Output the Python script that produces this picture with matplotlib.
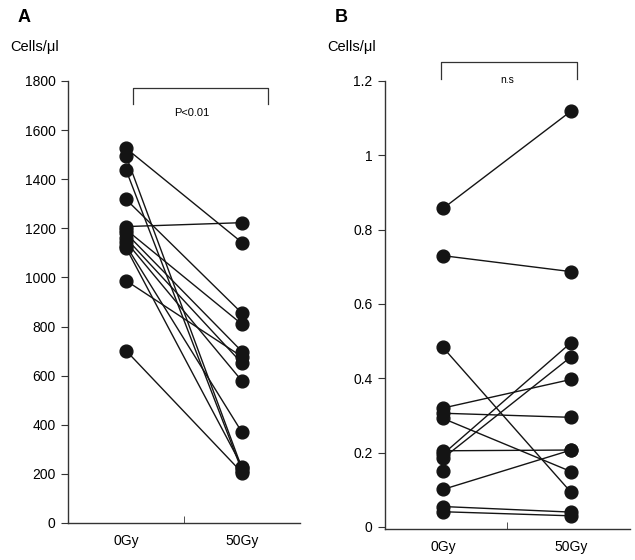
import numpy as np
import matplotlib
matplotlib.use("Agg")
import matplotlib.pyplot as plt

plt.rcParams['font.family'] = ['Liberation Sans', 'DejaVu Sans']

groups = ["0Gy", "50Gy"]

# Panel A: cells/ul, paired 0Gy -> 50Gy
a_0gy = [1526, 1496, 1438, 1318, 1207, 1195, 1180, 1160, 1146, 1130, 1121, 987, 702]
a_50gy = [1142, 222, 212, 854, 1223, 809, 698, 650, 578, 369, 230, 677, 205]
a_yticks = [0, 200, 400, 600, 800, 1000, 1200, 1400, 1600, 1800]

# Panel B: cells/ul, paired 0Gy -> 50Gy (nan = no partner visible)
b_0gy = [0.857, 0.730, 0.483, 0.320, 0.306, 0.292, 0.205, 0.196, 0.185, 0.151, 0.101, 0.055, 0.041]
b_50gy = [1.119, 0.687, 0.093, 0.397, 0.295, 0.149, 0.207, 0.496, 0.458, np.nan, 0.207, 0.040, 0.030]
b_yticks = [0, 0.2, 0.4, 0.6, 0.8, 1.0, 1.2]
b_yticklabels = ["0", "0.2", "0.4", "0.6", "0.8", "1", "1.2"]

fig = plt.figure(figsize=(6.35, 5.6), dpi=100)
axA = fig.add_axes([0.1071, 0.0661, 0.3654, 0.7893])
axB = fig.add_axes([0.6063, 0.0554, 0.3858, 0.8000])

dot = '#141414'

def paired(ax, v0, v1):
    for y0, y1 in zip(v0, v1):
        if not np.isnan(y1):
            ax.plot([1, 2], [y0, y1], color=dot, lw=1.0, zorder=2)
    ax.plot([1] * len(v0), v0, 'o', color=dot, ms=9.2, zorder=3, clip_on=False)
    v1a = np.array(v1, dtype=float)
    v1a = v1a[~np.isnan(v1a)]
    ax.plot([2] * len(v1a), v1a, 'o', color=dot, ms=9.2, zorder=3, clip_on=False)

def style(ax):
    for s in ['top', 'right']:
        ax.spines[s].set_visible(False)
    for s in ['left', 'bottom']:
        ax.spines[s].set_color('#333333')
        ax.spines[s].set_linewidth(1.0)
    ax.set_xticks([1, 2])
    ax.set_xticklabels(groups, fontsize=10)
    ax.tick_params(axis='x', length=0, pad=8)
    ax.set_xticks([1.5], minor=True)
    ax.tick_params(axis='x', which='minor', direction='in', length=5, color='#333333')
    ax.tick_params(axis='y', direction='out', length=5, labelsize=10, pad=4, color='#333333')

paired(axA, a_0gy, a_50gy)
axA.set_xlim(0.5, 2.5)
axA.set_ylim(0, 1800)
axA.set_yticks(a_yticks)
style(axA)

paired(axB, b_0gy, b_50gy)
axB.set_xlim(0.547, 2.46)
axB.set_ylim(-0.0054, 1.2)
axB.set_yticks(b_yticks)
axB.set_yticklabels(b_yticklabels)
style(axB)

# significance brackets (figure-pixel positions converted)
def px(x, y):
    return x / 635.0, 1 - y / 560.0

def bracket(x0, x1, ytop, ybot):
    xa, ya = px(x0, ytop)
    xb, yb = px(x1, ybot)
    fig.add_artist(plt.Line2D([xa, xa, xb, xb], [yb, ya, ya, yb], color='#333333', lw=0.9))

bracket(132.5, 267.5, 88, 104)
fig.text(*px(192, 113), "P<0.01", fontsize=8, ha='center', va='center')
bracket(441, 577, 62, 79)
fig.text(*px(507, 80), "n.s", fontsize=7.5, ha='center', va='center')

fig.text(*px(18, 18), "A", fontsize=13, fontweight='bold', ha='left', va='center')
fig.text(*px(335, 18), "B", fontsize=13, fontweight='bold', ha='left', va='center')
fig.text(*px(10, 47), "Cells/\u03bcl", fontsize=10.5, ha='left', va='center')
fig.text(*px(327, 47), "Cells/\u03bcl", fontsize=10.5, ha='left', va='center')

fig.savefig("out.png", dpi=100)
